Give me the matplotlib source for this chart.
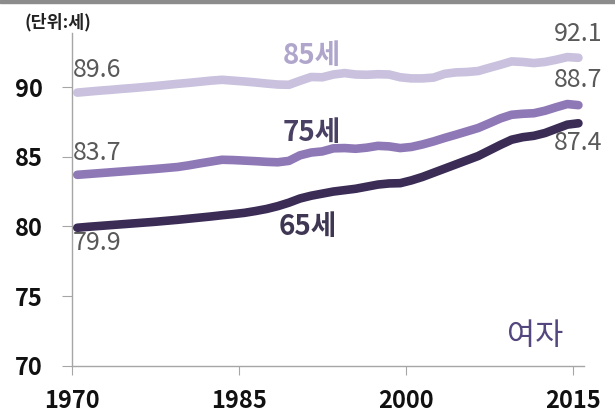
import matplotlib
matplotlib.use('Agg')
import matplotlib.pyplot as plt

plt.rcParams['font.family'] = ['Noto Sans CJK KR', 'DejaVu Sans']

# 연도 (1970-2015)
years = list(range(1970, 2016))

# 여자 기대수명 (연령 + 기대여명), 단위: 세
age85 = [89.6, 89.67, 89.74, 89.8, 89.87, 89.93, 90.0, 90.07, 90.15, 90.23,
         90.3, 90.38, 90.46, 90.52, 90.46, 90.4, 90.33, 90.25, 90.18, 90.16,
         90.45, 90.72, 90.7, 90.9, 91.0, 90.9, 90.88, 90.92, 90.9, 90.7,
         90.62, 90.62, 90.68, 90.95, 91.05, 91.08, 91.15, 91.38, 91.6, 91.84,
         91.8, 91.72, 91.8, 91.96, 92.15, 92.1]
age75 = [83.7, 83.76, 83.82, 83.88, 83.94, 84.0, 84.06, 84.12, 84.19, 84.26,
         84.38, 84.52, 84.65, 84.78, 84.76, 84.72, 84.68, 84.63, 84.6, 84.7,
         85.1, 85.3, 85.38, 85.6, 85.62, 85.57, 85.65, 85.78, 85.74, 85.62,
         85.7, 85.88, 86.1, 86.35, 86.58, 86.82, 87.06, 87.4, 87.75, 88.01,
         88.08, 88.12, 88.3, 88.55, 88.78, 88.7]
age65 = [79.9, 79.97, 80.03, 80.09, 80.15, 80.21, 80.27, 80.33, 80.4, 80.47,
         80.55, 80.63, 80.71, 80.8, 80.88, 80.97, 81.1, 81.25, 81.45, 81.7,
         82.0, 82.2, 82.35, 82.5, 82.6, 82.7, 82.85, 83.0, 83.08, 83.1,
         83.3, 83.55, 83.85, 84.15, 84.45, 84.75, 85.05, 85.45, 85.85, 86.22,
         86.4, 86.5, 86.7, 87.0, 87.3, 87.4]

tick_years = [1970, 1985, 2000, 2015]
yticks = [70, 75, 80, 85, 90]

fig = plt.figure(figsize=(6.15, 4.15), dpi=100)
ax = fig.add_axes([0.1166, 0.1188, 0.833, 0.8024])

# 상단 회색 띠
fig.patches.append(plt.Rectangle((0, 0.993), 1, 0.007, transform=fig.transFigure,
                                 color='#8c8c8c', zorder=0))

lw = 6.2
ax.plot(years, age85, color='#c9c1dd', lw=lw, solid_capstyle='round', zorder=3)
ax.plot(years, age75, color='#8f78b6', lw=lw, solid_capstyle='round', zorder=3)
ax.plot(years, age65, color='#3b2c56', lw=lw, solid_capstyle='round', zorder=3)

ax.set_xlim(1969.5, 2015.5)
ax.set_ylim(70, 93.9)

ax.set_xticks([y - 0.5 for y in tick_years])
ax.set_xticklabels([str(y) for y in tick_years])
ax.set_yticks(yticks)
ax.set_yticklabels([str(v) for v in yticks])

for s in ['top', 'right']:
    ax.spines[s].set_visible(False)
for s in ['left', 'bottom']:
    ax.spines[s].set_color('#a6a6a6')
    ax.spines[s].set_linewidth(1)

ax.tick_params(axis='x', length=6.5, width=0.8, color='#a6a6a6', pad=10,
               labelsize=17)
ax.tick_params(axis='y', length=7, width=0.8, color='#a6a6a6', pad=14,
               labelsize=17)
for lab in ax.get_xticklabels() + ax.get_yticklabels():
    lab.set_fontweight('bold')
    lab.set_color('#111111')

# 시작/끝 값 레이블
vc = '#595959'
fs = 18
ax.annotate(f'{age85[0]:.1f}', (years[0], age85[0]), xytext=(-3, 16.5),
            textcoords='offset points', ha='left', va='center', fontsize=fs, color=vc)
ax.annotate(f'{age75[0]:.1f}', (years[0], age75[0]), xytext=(-3, 16),
            textcoords='offset points', ha='left', va='center', fontsize=fs, color=vc)
ax.annotate(f'{age65[0]:.1f}', (years[0], age65[0]), xytext=(-3, -11),
            textcoords='offset points', ha='left', va='center', fontsize=fs, color=vc)
ax.annotate(f'{age85[-1]:.1f}', (years[-1], age85[-1]), xytext=(0, 17),
            textcoords='offset points', ha='center', va='center', fontsize=fs, color=vc)
ax.annotate(f'{age75[-1]:.1f}', (years[-1], age75[-1]), xytext=(0, 18),
            textcoords='offset points', ha='center', va='center', fontsize=fs, color=vc)
ax.annotate(f'{age65[-1]:.1f}', (years[-1], age65[-1]), xytext=(0, -14),
            textcoords='offset points', ha='center', va='center', fontsize=fs, color=vc)

# 계열 이름
ax.text(0.469, 0.931, '85세', transform=ax.transAxes, ha='center', va='center',
        fontsize=20, fontweight='bold', color='#b0a6cc')
ax.text(0.469, 0.700, '75세', transform=ax.transAxes, ha='center', va='center',
        fontsize=20, fontweight='bold', color='#4a4064')
ax.text(0.461, 0.417, '65세', transform=ax.transAxes, ha='center', va='center',
        fontsize=20, fontweight='bold', color='#3e3652')
ax.text(0.905, 0.087, '여자', transform=ax.transAxes, ha='center', va='center',
        fontsize=22, color='#54467e')

fig.text(0.0935, 0.947, '(단위:세)', ha='center', va='center', fontsize=12.5,
         fontweight='bold', color='#222222')

fig.savefig('out.png', dpi=100)
